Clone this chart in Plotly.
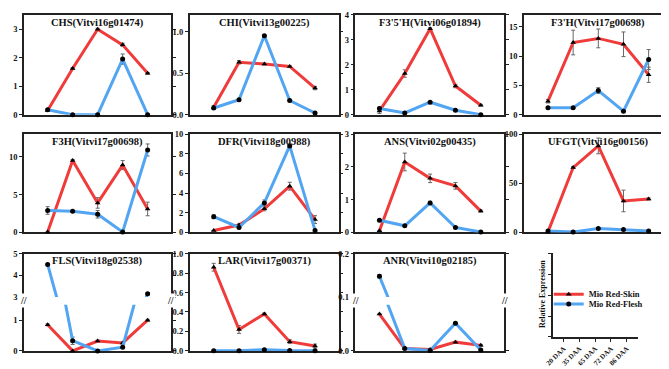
import plotly.graph_objects as go

W, H = 669, 369
RED = "#F03B3B"
BLUE = "#52A5F2"
FONT = "Liberation Serif"
AXC = "#222222"

stages = ["20 DAA", "35 DAA", "65 DAA", "72 DAA", "86 DAA"]
xi = [0, 1, 2, 3, 4]

CHS_skin = [0.15, 1.62, 3.0, 2.45, 1.45]
CHS_skin_err = [0.02, 0.03, 0.03, 0.06, 0.03]
CHS_flesh = [0.17, 0.0, 0.0, 1.95, 0.0]
CHS_flesh_err = [0.03, 0.0, 0.0, 0.18, 0.0]

CHI_skin = [0.09, 0.63, 0.61, 0.58, 0.32]
CHI_skin_err = [0.02, 0.02, 0.01, 0.01, 0.02]
CHI_flesh = [0.08, 0.18, 0.95, 0.17, 0.02]
CHI_flesh_err = [0.01, 0.01, 0.01, 0.01, 0.0]

F35H_skin = [0.15, 1.65, 3.45, 1.15, 0.38]
F35H_skin_err = [0.1, 0.15, 0.04, 0.07, 0.03]
F35H_flesh = [0.25, 0.07, 0.5, 0.18, 0.0]
F35H_flesh_err = [0.05, 0.01, 0.02, 0.01, 0.0]

F3pH_skin = [2.3, 12.3, 13.0, 12.0, 6.8]
F3pH_skin_err = [0.3, 2.1, 1.6, 2.1, 1.3]
F3pH_flesh = [1.2, 1.2, 4.1, 0.6, 9.4]
F3pH_flesh_err = [0.1, 0.1, 0.5, 0.1, 1.7]

F3H_skin = [0.05, 9.5, 3.9, 8.9, 3.1]
F3H_skin_err = [0.0, 0.15, 0.7, 0.6, 0.9]
F3H_flesh = [2.9, 2.8, 2.4, 0.05, 10.9]
F3H_flesh_err = [0.5, 0.1, 0.5, 0.0, 0.8]

DFR_skin = [0.2, 0.75, 2.4, 4.7, 1.3]
DFR_skin_err = [0.0, 0.1, 0.2, 0.4, 0.4]
DFR_flesh = [1.6, 0.5, 3.0, 8.8, 0.2]
DFR_flesh_err = [0.2, 0.1, 0.3, 0.2, 0.0]

ANS_skin = [0.05, 2.15, 1.65, 1.42, 0.65]
ANS_skin_err = [0.0, 0.27, 0.13, 0.1, 0.03]
ANS_flesh = [0.37, 0.2, 0.9, 0.15, 0.01]
ANS_flesh_err = [0.02, 0.02, 0.05, 0.02, 0.0]

UFGT_skin = [0.5, 66, 88, 32, 34]
UFGT_skin_err = [0, 1, 8, 11, 1]
UFGT_flesh = [1.5, 0.3, 4.0, 3.0, 1.5]
UFGT_flesh_err = [0.2, 0.1, 0.5, 0.3, 0.2]

FLS_skin = [0.85, 0.0, 0.32, 0.26, 1.0]
FLS_skin_err = [0.03, 0.0, 0.03, 0.03, 0.03]
FLS_flesh = [4.5, 0.33, 0.0, 0.12, 3.15]
FLS_flesh_err = [0.03, 0.12, 0.0, 0.02, 0.05]

LAR_skin = [0.86, 0.22, 0.38, 0.095, 0.05]
LAR_skin_err = [0.04, 0.04, 0.01, 0.02, 0.02]
LAR_flesh = [0.002, 0.002, 0.012, 0.003, 0.002]
LAR_flesh_err = [0.0, 0.0, 0.003, 0.0, 0.0]

ANR_skin = [0.08, 0.005, 0.003, 0.019, 0.012]
ANR_skin_err = [0.0, 0.001, 0.001, 0.002, 0.002]
ANR_flesh = [0.148, 0.005, 0.001, 0.06, 0.002]
ANR_flesh_err = [0.004, 0.001, 0.0, 0.002, 0.001]

# panel geometry (pixels)
cols = [(8, 157), (176, 327), (344, 495), (515, 665)]
rows = [(2, 104.5), (124.5, 225.5), (247.3, 347.3)]
XR = [-0.95, 4.93]

panels = [
    dict(t="CHS(Vitvi16g01474)", s=CHS_skin, se=CHS_skin_err, f=CHS_flesh, fe=CHS_flesh_err, r=0, c=0, yr=[0, 3.5], tv=[0, 1, 2, 3], fmt="d"),
    dict(t="CHI(Vitvi13g00225)", s=CHI_skin, se=CHI_skin_err, f=CHI_flesh, fe=CHI_flesh_err, r=0, c=1, yr=[0, 1.2], tv=[0, 0.5, 1.0], fmt=".1f"),
    dict(t="F3'5'H(Vitvi06g01894)", s=F35H_skin, se=F35H_skin_err, f=F35H_flesh, fe=F35H_flesh_err, r=0, c=2, yr=[0, 4], tv=[0, 1, 2, 3, 4], fmt="d"),
    dict(t="F3'H(Vitvi17g00698)", s=F3pH_skin, se=F3pH_skin_err, f=F3pH_flesh, fe=F3pH_flesh_err, r=0, c=3, yr=[0, 17], tv=[0, 5, 10, 15], fmt="d"),
    dict(t="F3H(Vitvi17g00698)", s=F3H_skin, se=F3H_skin_err, f=F3H_flesh, fe=F3H_flesh_err, r=1, c=0, yr=[0, 13], tv=[0, 5, 10], fmt="d"),
    dict(t="DFR(Vitvi18g00988)", s=DFR_skin, se=DFR_skin_err, f=DFR_flesh, fe=DFR_flesh_err, r=1, c=1, yr=[0, 10], tv=[0, 2, 4, 6, 8, 10], fmt="d"),
    dict(t="ANS(Vitvi02g00435)", s=ANS_skin, se=ANS_skin_err, f=ANS_flesh, fe=ANS_flesh_err, r=1, c=2, yr=[0, 3], tv=[0, 1, 2, 3], fmt="d"),
    dict(t="UFGT(Vitvi16g00156)", s=UFGT_skin, se=UFGT_skin_err, f=UFGT_flesh, fe=UFGT_flesh_err, r=1, c=3, yr=[0, 100], tv=[0, 50, 100], fmt="d"),
    dict(t="FLS(Vitvi18g02538)", s=FLS_skin, se=FLS_skin_err, f=FLS_flesh, fe=FLS_flesh_err, r=2, c=0,
         lo=[0, 1.5], lotv=[0, 1], up=[3, 5], uptv=[3, 4, 5], fmt="d"),
    dict(t="LAR(Vitvi17g00371)", s=LAR_skin, se=LAR_skin_err, f=LAR_flesh, fe=LAR_flesh_err, r=2, c=1, yr=[0, 1.0], tv=[0, 0.2, 0.4, 0.6, 0.8, 1.0], fmt=".1f"),
    dict(t="ANR(Vitvi10g02185)", s=ANR_skin, se=ANR_skin_err, f=ANR_flesh, fe=ANR_flesh_err, r=2, c=2,
         lo=[0, 0.1], lotv=[0], up=[0.1, 0.2], uptv=[0.1, 0.2], fmt=".1f"),
]

BREAK_UP_PX = 292.0
BREAK_LO_PX = 300.0


def px_x(p):
    return p / W


def px_y(p):
    return 1 - p / H


fig = go.Figure()
layout = {}
annotations = []
tickfont = dict(family=FONT, size=8.5, color="#111", weight="bold")


def add_traces(s, se, f, fe, xa, ya, legend_on):
    fig.add_trace(go.Scatter(
        x=xi, y=s, mode="lines+markers", name="Mio Red-Skin",
        line=dict(color=RED, width=3),
        marker=dict(symbol="triangle-up", color="black", size=5),
        error_y=dict(type="data", array=se, color="#666", thickness=1, width=2),
        xaxis=xa, yaxis=ya, cliponaxis=False, showlegend=legend_on, legend="legend"))
    fig.add_trace(go.Scatter(
        x=xi, y=f, mode="lines+markers", name="Mio Red-Flesh",
        line=dict(color=BLUE, width=3),
        marker=dict(symbol="circle", color="black", size=5),
        error_y=dict(type="data", array=fe, color="#666", thickness=1, width=2),
        xaxis=xa, yaxis=ya, cliponaxis=False, showlegend=legend_on, legend="legend2"))


def xaxis_def(dom, anchor, side="bottom", mirror=True, show=True):
    return dict(domain=dom, range=XR, anchor=anchor, side=side, showline=show, mirror=mirror,
                linecolor=AXC, linewidth=1.5, ticks="", showticklabels=False,
                showgrid=False, zeroline=False, fixedrange=True, layer="below traces")


def yaxis_def(dom, rng, tv, fmt, anchor):
    return dict(domain=dom, range=rng, tickvals=tv, tickformat=fmt, anchor=anchor,
                showline=True, mirror="ticks", linecolor=AXC, linewidth=1.5,
                ticks="outside", ticklen=3, tickwidth=1, tickcolor=AXC,
                tickfont=tickfont, showgrid=False, zeroline=False, fixedrange=True,
                layer="below traces")


k = 1
first = True
for p in panels:
    x0, x1 = cols[p["c"]]
    top, bot = rows[p["r"]]
    xdom = [px_x(x0), px_x(x1)]
    if "lo" not in p:
        xn, yn = ("x" if k == 1 else f"x{k}"), ("y" if k == 1 else f"y{k}")
        layout[f"xaxis{'' if k == 1 else k}"] = xaxis_def(xdom, yn)
        layout[f"yaxis{'' if k == 1 else k}"] = yaxis_def([px_y(bot), px_y(top)], p["yr"], p["tv"], p["fmt"], xn)
        add_traces(p["s"], p["se"], p["f"], p["fe"], xn, yn, first)
        first = False
        k += 1
    else:
        # lower segment
        xn, yn = f"x{k}", f"y{k}"
        layout[f"xaxis{k}"] = xaxis_def(xdom, yn, mirror=False)
        layout[f"yaxis{k}"] = yaxis_def([px_y(bot), px_y(BREAK_LO_PX)], p["lo"], p["lotv"], p["fmt"], xn)
        add_traces(p["s"], p["se"], p["f"], p["fe"], xn, yn, False)
        k += 1
        # upper segment
        xn, yn = f"x{k}", f"y{k}"
        layout[f"xaxis{k}"] = xaxis_def(xdom, yn, side="top", mirror=False)
        layout[f"yaxis{k}"] = yaxis_def([px_y(BREAK_UP_PX), px_y(top)], p["up"], p["uptv"], p["fmt"], xn)
        add_traces(p["s"], p["se"], p["f"], p["fe"], xn, yn, False)
        k += 1
        for bx in (x0, x1):
            annotations.append(dict(x=px_x(bx), y=px_y((BREAK_UP_PX + BREAK_LO_PX) / 2),
                                    xref="paper", yref="paper", text="//", showarrow=False,
                                    font=dict(family=FONT, size=10, color=AXC, weight="bold"),
                                    xanchor="center", yanchor="middle", bgcolor="white"))
    annotations.append(dict(x=px_x((x0 + x1) / 2), y=px_y(top + 8), xref="paper", yref="paper",
                            text=p["t"], showarrow=False, xanchor="center", yanchor="middle",
                            font=dict(family=FONT, size=10.5, color="#111", weight="bold")))

# legend / key panel
lx, ly = f"x{k}", f"y{k}"
layout[f"xaxis{k}"] = dict(domain=[px_x(544), px_x(630)], range=[-0.69, 4.69], anchor=ly,
                           tickvals=xi, ticktext=stages, tickangle=-45, ticks="outside", ticklen=3,
                           tickcolor=AXC, showline=True, linecolor=AXC, linewidth=1.5,
                           tickfont=dict(family=FONT, size=7, color="#111", weight="bold"),
                           showgrid=False, zeroline=False, fixedrange=True, type="linear")
layout[f"yaxis{k}"] = dict(domain=[px_y(333), px_y(247)], range=[0, 4], anchor=lx,
                           tickvals=[0, 1, 2, 3, 4], showticklabels=False, ticks="outside", ticklen=3,
                           tickcolor=AXC, showline=True, linecolor=AXC, linewidth=1.5,
                           showgrid=False, zeroline=False, fixedrange=True, type="linear")
fig.add_trace(go.Scatter(x=[None], y=[None], xaxis=lx, yaxis=ly, showlegend=False, hoverinfo="skip"))
annotations.append(dict(x=px_x(533), y=px_y(289), xref="paper", yref="paper", text="Relative Expression",
                        textangle=-90, showarrow=False, xanchor="center", yanchor="middle",
                        font=dict(family=FONT, size=8, color="#111", weight="bold")))

legfont = dict(family=FONT, size=8.5, color="#111", weight="bold")
fig.update_layout(
    **layout,
    annotations=annotations,
    width=W, height=H,
    margin=dict(l=0, r=0, t=0, b=0),
    paper_bgcolor="white", plot_bgcolor="white",
    font=dict(family=FONT),
    legend=dict(x=px_x(540), y=px_y(289), xanchor="left", yanchor="middle", font=legfont,
                bgcolor="rgba(0,0,0,0)", itemwidth=30, tracegroupgap=0),
    legend2=dict(x=px_x(540), y=px_y(299), xanchor="left", yanchor="middle", font=legfont,
                 bgcolor="rgba(0,0,0,0)", itemwidth=30, tracegroupgap=0),
)

fig.write_html("out.html")
